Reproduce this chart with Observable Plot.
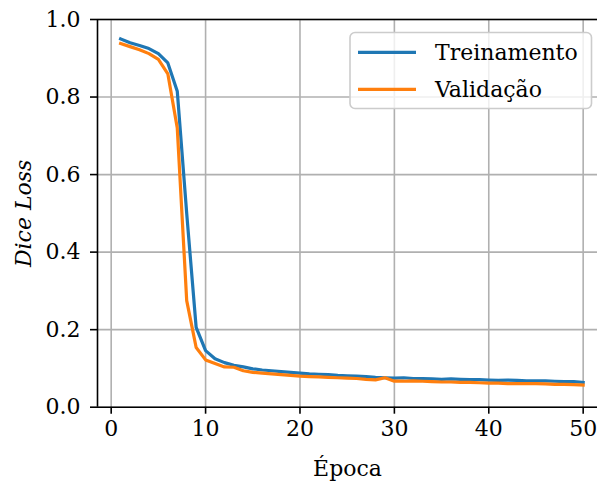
<!DOCTYPE html>
<html>
<head>
<meta charset="utf-8">
<script src="https://cdn.jsdelivr.net/npm/d3@7"></script>
<script src="https://cdn.jsdelivr.net/npm/@observablehq/plot@0.6"></script>
<style>
  html, body { margin: 0; padding: 0; background: #fff; }
  #chart svg, #chart svg text { font-family: "DejaVu Serif", "Liberation Serif", serif !important; }
  [aria-label="y-axis label"] text, [aria-label="y-axis label"] { font-style: italic; }
</style>
</head>
<body>
<div id="chart"></div>
<script>
const epochs = d3.range(1, 51);
const train = [0.950, 0.940, 0.933, 0.925, 0.912, 0.888, 0.815, 0.500, 0.206, 0.146,
               0.125, 0.115, 0.108, 0.104, 0.099, 0.096, 0.094, 0.092, 0.090, 0.088,
               0.086, 0.085, 0.084, 0.082, 0.081, 0.080, 0.079, 0.077, 0.076, 0.075,
               0.076, 0.074, 0.074, 0.073, 0.072, 0.073, 0.072, 0.071, 0.071, 0.070,
               0.069, 0.070, 0.069, 0.068, 0.068, 0.068, 0.067, 0.066, 0.066, 0.064];
const val = [0.938, 0.930, 0.922, 0.912, 0.897, 0.860, 0.720, 0.275, 0.154, 0.122,
             0.113, 0.104, 0.103, 0.094, 0.090, 0.088, 0.086, 0.084, 0.082, 0.080,
             0.079, 0.078, 0.077, 0.076, 0.075, 0.074, 0.072, 0.0705, 0.076, 0.067,
             0.067, 0.068, 0.067, 0.066, 0.065, 0.065, 0.064, 0.064, 0.063, 0.062,
             0.062, 0.061, 0.061, 0.061, 0.061, 0.060, 0.059, 0.059, 0.058, 0.057];
const seriesNames = ["Treinamento", "Validação"];
const seriesColors = ["#1f77b4", "#ff7f0e"];
const xTicks = [0, 10, 20, 30, 40, 50];
const yTicks = [0.0, 0.2, 0.4, 0.6, 0.8, 1.0];
const xLabel = "Época";
const yLabel = "Dice Loss";

const trainData = epochs.map((e, i) => ({epoch: e, loss: train[i]}));
const valData = epochs.map((e, i) => ({epoch: e, loss: val[i]}));

const W = 597, H = 490;
const mL = 97, mT = 19, mB = 83.3;
const xDomain = [-1.45, 52.45];

const fs = 22;
const chart = Plot.plot({
  width: W, height: H,
  marginLeft: mL, marginTop: mT, marginBottom: mB, marginRight: 0,
  style: {fontSize: fs + "px", background: "#fff", color: "#000"},
  x: {domain: xDomain, range: [mL, 605.8]},
  y: {domain: [0, 1], range: [H - mB, mT]},
  marks: [
    Plot.gridX(xTicks, {stroke: "#b0b0b0", strokeOpacity: 1, strokeWidth: 1.6}),
    Plot.gridY(yTicks, {stroke: "#b0b0b0", strokeOpacity: 1, strokeWidth: 1.6}),
    Plot.line(trainData, {x: "epoch", y: "loss", stroke: seriesColors[0], strokeWidth: 3.2, strokeLinejoin: "miter", strokeLinecap: "square"}),
    Plot.line(valData, {x: "epoch", y: "loss", stroke: seriesColors[1], strokeWidth: 3.2, strokeLinejoin: "miter", strokeLinecap: "square"}),
    Plot.ruleY([0, 1], {stroke: "#000", strokeWidth: 1.6}),
    Plot.ruleX([xDomain[0]], {stroke: "#000", strokeWidth: 1.6}),
    Plot.axisX(xTicks, {tickSize: 7, tickPadding: 6, strokeWidth: 1.6, fontSize: fs,
      label: xLabel, labelAnchor: "center", labelArrow: "none", labelOffset: 69, tickFormat: d => String(d)}),
    Plot.axisY(yTicks, {tickSize: 7, tickPadding: 10, strokeWidth: 1.6, fontSize: fs,
      label: yLabel, labelAnchor: "center", labelArrow: "none", labelOffset: 82, tickFormat: d => d.toFixed(1)})
  ]
});
document.getElementById("chart").appendChild(chart);

// Legend drawn inside the SVG
const svg = d3.select(chart);
const lg = svg.append("g").attr("class", "legend");
lg.append("rect")
  .attr("x", 350).attr("y", 32.5).attr("width", 241.5).attr("height", 76)
  .attr("rx", 5).attr("ry", 5)
  .attr("fill", "#fff").attr("fill-opacity", 0.8)
  .attr("stroke", "#cccccc").attr("stroke-width", 1.6);
seriesNames.forEach((name, i) => {
  const cy = 52.3 + i * 37;
  lg.append("line").attr("x1", 358).attr("x2", 416).attr("y1", cy).attr("y2", cy)
    .attr("stroke", seriesColors[i]).attr("stroke-width", 3.2);
  lg.append("text").attr("x", 435).attr("y", cy).attr("dy", "0.35em")
    .attr("text-anchor", "start")
    .attr("font-size", fs).attr("fill", "#000").text(name);
});
</script>
</body>
</html>
